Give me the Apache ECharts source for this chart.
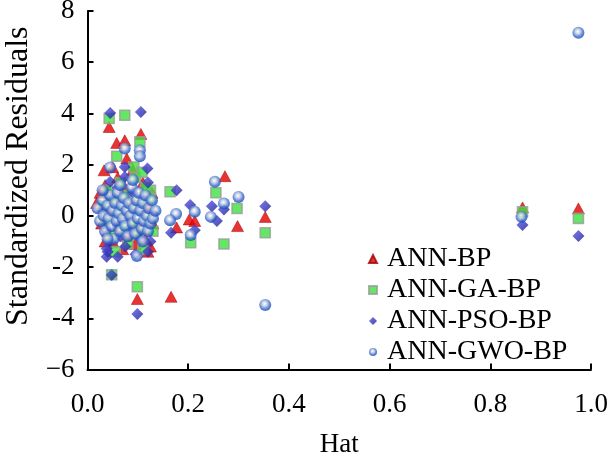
<!DOCTYPE html>
<html>
<head>
<meta charset="utf-8">
<script src="https://cdn.jsdelivr.net/npm/echarts@6/dist/echarts.min.js"></script>
<style>
  html, body { margin: 0; padding: 0; background: #fff; }
  #chart { width: 608px; height: 464px; }
</style>
</head>
<body>
<div id="chart"></div>
<script>
// Hat (leverage) vs standardized residuals for four network models
const seriesNames = ['ANN-BP', 'ANN-GA-BP', 'ANN-PSO-BP', 'ANN-GWO-BP'];
const xTicks = [0, 0.2, 0.4, 0.6, 0.8, 1.0];
const yTicks = [-6, -4, -2, 0, 2, 4, 6, 8];

const bpPoints = [
  [0.033, 1.78], [0.043, 3.47], [0.058, 2.85], [0.074, 2.95], [0.078, 2.24],
  [0.106, 3.2], [0.099, -3.25], [0.166, -3.16], [0.177, -0.45], [0.202, -0.14],
  [0.213, -0.2], [0.273, 1.55], [0.298, -0.4], [0.353, -0.04], [0.864, 0.33],
  [0.975, 0.29], [0.018, 0.5], [0.025, 0.9], [0.028, -0.3], [0.035, 1.2],
  [0.04, -0.6], [0.045, 0.2], [0.05, -1.0], [0.055, 0.7], [0.06, 1.5],
  [0.062, -0.4], [0.068, 0.1], [0.07, -1.3], [0.075, 1.1], [0.08, -0.8],
  [0.085, 0.4], [0.088, -0.2], [0.09, 1.8], [0.095, -1.1], [0.1, 0.6],
  [0.105, -0.5], [0.11, 1.3], [0.115, -0.9], [0.12, 0.3], [0.125, -1.2],
  [0.128, 0.9], [0.13, -0.3], [0.05, 1.9], [0.035, -1.0], [0.12, -1.4]
];

const gaPoints = [
  [0.043, 3.8], [0.074, 3.93], [0.104, 2.89], [0.058, 2.33], [0.092, 1.91],
  [0.164, 0.94], [0.255, 0.9], [0.297, 0.29], [0.205, -1.05], [0.271, -1.1],
  [0.353, -0.66], [0.048, -2.3], [0.099, -2.77], [0.864, 0.16], [0.975, -0.1],
  [0.125, 1.0], [0.03, 0.4], [0.035, -0.2], [0.04, 1.0], [0.045, -0.8],
  [0.05, 0.6], [0.055, -1.4], [0.06, 0.1], [0.065, 1.3], [0.07, -0.5],
  [0.075, 0.8], [0.08, -1.1], [0.085, 0.3], [0.09, -0.3], [0.095, 1.5],
  [0.1, -0.7], [0.105, 0.5], [0.11, -1.3], [0.115, 1.1], [0.12, -0.1],
  [0.125, 0.7], [0.13, -0.6], [0.108, 1.7]
];

const psoPoints = [
  [0.045, 4.02], [0.106, 4.06], [0.074, 1.91], [0.119, 1.85], [0.074, 1.52],
  [0.045, 1.33], [0.177, 1.0], [0.204, 0.42], [0.247, 0.38], [0.271, 0.25],
  [0.257, -0.2], [0.166, -0.66], [0.213, -0.56], [0.353, 0.38], [0.048, -2.31],
  [0.099, -3.83], [0.038, -1.6], [0.038, -1.27], [0.864, -0.36], [0.975, -0.79],
  [0.03, 0.2], [0.035, -0.5], [0.04, 0.8], [0.045, -1.0], [0.05, 0.3],
  [0.055, -0.3], [0.06, 1.1], [0.065, -0.8], [0.07, 0.5], [0.075, -1.2],
  [0.08, 0.0], [0.085, -0.6], [0.09, 0.9], [0.095, -1.5], [0.1, 0.2],
  [0.105, -0.9], [0.11, 0.7], [0.115, -0.4], [0.12, 1.3], [0.125, -1.0],
  [0.13, 0.1], [0.04, -1.4], [0.06, -1.6], [0.12, -1.4]
];

const gwoPoints = [
  [0.045, 1.89], [0.074, 2.63], [0.104, 2.56], [0.104, 2.33], [0.253, 1.33],
  [0.30, 0.74], [0.271, 0.48], [0.176, 0.07], [0.213, 0.16], [0.245, -0.04],
  [0.164, -0.17], [0.205, -0.75], [0.098, -1.57], [0.353, -3.48], [0.862, -0.04],
  [0.975, 7.15], [0.02, 0.3], [0.025, -0.2], [0.03, 0.6], [0.032, 0.0],
  [0.035, -0.6], [0.04, 0.4], [0.042, -0.1], [0.045, 0.8], [0.048, -0.4],
  [0.05, 0.2], [0.052, -0.9], [0.055, 0.5], [0.058, -0.2], [0.06, 0.9],
  [0.062, 0.1], [0.065, -0.6], [0.068, 0.4], [0.07, -0.1], [0.072, 0.7],
  [0.075, -0.4], [0.078, 0.2], [0.08, -0.8], [0.082, 0.5], [0.085, 0.0],
  [0.088, 1.1], [0.09, -0.3], [0.092, 0.3], [0.095, -0.7], [0.098, 0.6],
  [0.1, -0.1], [0.102, 0.9], [0.105, 0.2], [0.108, -0.5], [0.11, 0.5],
  [0.112, -0.2], [0.115, 0.8], [0.118, 0.0], [0.12, -0.6], [0.122, 0.3],
  [0.125, -0.3], [0.128, 0.6], [0.13, -0.1], [0.135, 0.2], [0.04, -0.9],
  [0.065, 1.2], [0.09, 1.4], [0.11, -1.0], [0.03, 1.0]
];

const serif = 'Liberation Serif, Times New Roman, serif';

const axisCommon = {
  axisLine: { onZero: false, lineStyle: { color: '#000', width: 2 } },
  axisTick: { inside: true, length: 6, lineStyle: { color: '#000', width: 2 } },
  axisLabel: { color: '#000', fontFamily: serif, fontSize: 27 },
  splitLine: { show: false }
};

const chart = echarts.init(document.getElementById('chart'), null, { renderer: 'canvas' });

chart.setOption({
  animation: false,
  backgroundColor: '#fff',
  grid: {
    left: 87.5, right: 17, top: 11, bottom: 94.5,
    containLabel: false, outerBoundsMode: 'none'
  },
  xAxis: Object.assign({}, axisCommon, {
    type: 'value',
    min: xTicks[0],
    max: xTicks[xTicks.length - 1],
    interval: 0.2,
    name: 'Hat',
    nameLocation: 'middle',
    nameGap: 62,
    nameTextStyle: { color: '#000', fontFamily: serif, fontSize: 27 },
    axisLabel: Object.assign({}, axisCommon.axisLabel, {
      margin: 22,
      formatter: v => v.toFixed(1)
    })
  }),
  yAxis: Object.assign({}, axisCommon, {
    type: 'value',
    min: yTicks[0],
    max: yTicks[yTicks.length - 1],
    interval: 2,
    name: 'Standardized Residuals',
    nameLocation: 'middle',
    nameGap: 47,
    nameTextStyle: {
      color: '#000', fontFamily: serif, fontSize: 32,
      padding: [0, 0, 0, 28]
    },
    axisLabel: Object.assign({}, axisCommon.axisLabel, {
      margin: 13,
      formatter: v => (v === -6 ? '\u22126' : String(v))
    })
  }),
  legend: {
    orient: 'vertical',
    left: 363,
    top: 240,
    itemWidth: 8,
    itemHeight: 8,
    itemGap: 3,
    data: seriesNames,
    textStyle: {
      color: '#000', fontFamily: serif, fontSize: 28, lineHeight: 28,
      padding: [0, 0, 0, 5]
    }
  },
  series: [
    {
      name: seriesNames[0], type: 'scatter', data: bpPoints,
      symbol: 'triangle', symbolSize: [12, 11],
      itemStyle: { color: '#e40000', borderColor: '#a00000', borderWidth: 0.6 }
    },
    {
      name: seriesNames[1], type: 'scatter', data: gaPoints,
      symbol: 'rect', symbolSize: 10,
      itemStyle: { color: '#3be23b', borderColor: '#9b9b9b', borderWidth: 1.6 }
    },
    {
      name: seriesNames[2], type: 'scatter', data: psoPoints,
      symbol: 'diamond', symbolSize: [12, 12],
      itemStyle: {
        color: new echarts.graphic.LinearGradient(0, 0, 1, 1, [
          { offset: 0, color: '#5656ee' }, { offset: 1, color: '#1a1a8c' }
        ])
      }
    },
    {
      name: seriesNames[3], type: 'scatter', data: gwoPoints,
      symbol: 'circle', symbolSize: 12,
      itemStyle: {
        color: new echarts.graphic.RadialGradient(0.45, 0.4, 0.6, [
          { offset: 0, color: '#ffffff' },
          { offset: 0.35, color: '#b8c6dc' },
          { offset: 0.7, color: '#3d6fd0' },
          { offset: 1, color: '#1a46b0' }
        ])
      }
    }
  ]
});
</script>
</body>
</html>
